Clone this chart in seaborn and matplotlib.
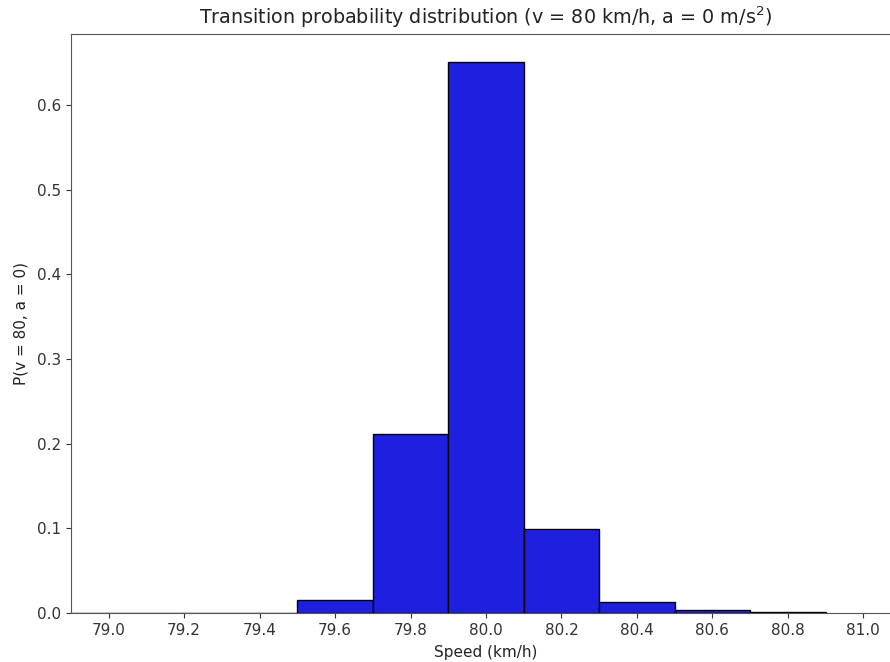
import numpy as np
import pandas as pd
import matplotlib
matplotlib.use("Agg")
import matplotlib.pyplot as plt
import seaborn as sns

speeds = [79.0, 79.2, 79.4, 79.6, 79.8, 80.0, 80.2, 80.4, 80.6, 80.8]
probs = [0.0004, 0.0004, 0.0004, 0.015, 0.212, 0.651, 0.099, 0.013, 0.003, 0.0006]
xticks = [79.0, 79.2, 79.4, 79.6, 79.8, 80.0, 80.2, 80.4, 80.6, 80.8, 81.0]

df = pd.DataFrame({"speed": speeds, "p": probs})

fig = plt.figure(figsize=(8.9, 6.62), dpi=100)
ax = fig.add_axes([71 / 890, 49 / 662, 830 / 890, 579 / 662])
sns.histplot(data=df, x="speed", weights="p", binwidth=0.2, binrange=(78.9, 80.9),
             color="#1f1fe0", alpha=1.0, edgecolor="black", linewidth=1.0, ax=ax)
ax.set_xlim(78.9, 81.1)
ax.set_ylim(0, 0.684)
ax.set_xticks(xticks)
ax.set_xticklabels([f"{t:.1f}" for t in xticks])
ax.set_yticks([0.0, 0.1, 0.2, 0.3, 0.4, 0.5, 0.6])
ax.tick_params(labelsize=11, colors="#333333")
ax.set_xlabel("Speed (km/h)", fontsize=11, color="#222222", labelpad=5)
ax.set_ylabel("P(v = 80, a = 0)", fontsize=11, color="#222222", labelpad=6)
ax.set_title(r"Transition probability distribution (v = 80 km/h, a = 0 m/s$^2$)",
             fontsize=13.8, color="#222222", pad=7)
for s in ax.spines.values():
    s.set_color("#555555")
fig.savefig("out.png", dpi=100)
